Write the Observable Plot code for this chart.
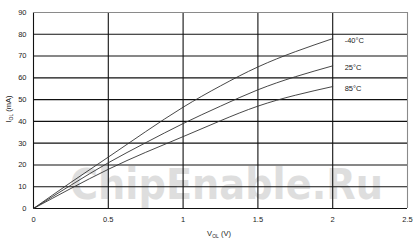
<!DOCTYPE html>
<html><head><meta charset="utf-8">
<script src="https://cdn.jsdelivr.net/npm/d3@7"></script>
<script src="https://cdn.jsdelivr.net/npm/@observablehq/plot@0.6"></script>
<style>body{margin:0;background:#fff}svg{display:block}</style>
</head><body><div id="c"></div>
<script>
const voltage = [0, 0.25, 0.5, 0.75, 1, 1.25, 1.5, 1.75, 2];
const iMinus40 = [0, 12.0, 23.6, 35.3, 46.5, 56.3, 65.0, 72.0, 78.0];
const i25 = [0, 10.7, 21.0, 30.2, 39.0, 47.0, 54.5, 60.5, 65.5];
const i85 = [0, 9.2, 18.0, 25.8, 33.0, 40.3, 47.0, 52.0, 56.0];
const seriesLabels = ["-40°C", "25°C", "85°C"];
const xTicks = [0, 0.5, 1, 1.5, 2, 2.5];
const yTicks = [0, 10, 20, 30, 40, 50, 60, 70, 80, 90];

const seriesValues = [iMinus40, i25, i85];
const rows = seriesValues.flatMap((vals, s) =>
  vals.map((v, i) => ({series: seriesLabels[s], v: voltage[i], i: v})));
const ends = seriesValues.map((vals, s) => ({series: seriesLabels[s], v: voltage[voltage.length - 1], i: vals[vals.length - 1]}));

const font = "Liberation Sans, Arial, sans-serif";
const chart = Plot.plot({
  width: 419, height: 246,
  marginLeft: 33, marginRight: 12, marginTop: 12, marginBottom: 38,
  style: {fontFamily: font, fontSize: "7.5px", color: "#222", background: "#fff"},
  x: {domain: [0, 2.5], ticks: xTicks, label: null, tickSize: 0, tickPadding: 8, tickFormat: d => String(d)},
  y: {domain: [0, 90], ticks: yTicks, label: null, tickSize: 0, tickPadding: 7},
  marks: [
    Plot.ruleX(xTicks.slice(0, -1), {stroke: "#111", strokeWidth: 1.1}),
    Plot.ruleX(xTicks.slice(-1), {stroke: "#8a8a8a", strokeWidth: 1.1}),
    Plot.ruleY(yTicks.slice(0, -1), {stroke: "#111", strokeWidth: 1.1}),
    Plot.ruleY(yTicks.slice(-1), {stroke: "#8a8a8a", strokeWidth: 1.1}),
    Plot.line(rows, {x: "v", y: "i", z: "series", stroke: "#333", strokeWidth: 0.9, curve: "natural"}),
    Plot.text(ends, {x: "v", y: "i", text: "series", textAnchor: "start", dx: 12, dy: 2, fill: "#222", fontSize: 7.5})
  ]
});
document.getElementById("c").appendChild(chart);

const svg = d3.select(chart);
// watermark behind everything
svg.insert("text", ":first-child")
  .attr("x", 70).attr("y", 199).attr("text-anchor", "start")
  .attr("textLength", 313).attr("lengthAdjust", "spacingAndGlyphs")
  .attr("font-family", "DejaVu Sans, sans-serif").attr("font-weight", "bold")
  .attr("font-size", 43).attr("fill", "#dedede")
  .text("ChipEnable.Ru");
// axis titles with subscripts
const xl = svg.append("text").attr("x", 219).attr("y", 236).attr("text-anchor", "middle")
  .attr("font-family", font).attr("font-size", 7.5).attr("fill", "#222");
xl.append("tspan").text("V");
xl.append("tspan").attr("font-size", 5).attr("dy", 1.5).text("OL");
xl.append("tspan").attr("dy", -1.5).text(" (V)");
const yl = svg.append("text").attr("transform", "translate(11,109) rotate(-90)").attr("text-anchor", "middle")
  .attr("font-family", font).attr("font-size", 7.5).attr("fill", "#222");
yl.append("tspan").text("I");
yl.append("tspan").attr("font-size", 5).attr("dy", 1.5).text("OL");
yl.append("tspan").attr("dy", -1.5).text(" (mA)");
</script>
</body></html>
